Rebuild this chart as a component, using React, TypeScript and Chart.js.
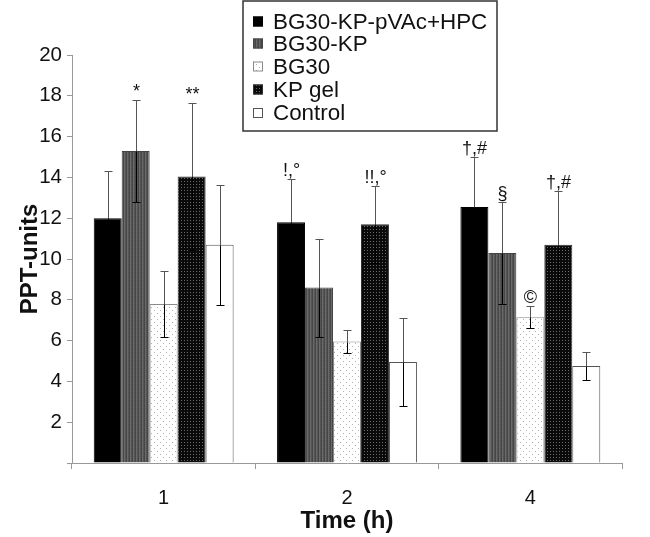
import React, { useEffect, useRef } from 'react';
import { Chart, registerables } from 'chart.js';
Chart.register(...registerables);

const categories = ['1', '2', '4'];
const seriesNames = ['BG30-KP-pVAc+HPC', 'BG30-KP', 'BG30', 'KP gel', 'Control'];
const pvacHpcValues = [12.0, 11.8, 12.55];
const pvacHpcErr = [2.3, 2.1, 2.45];
const bg30kpValues = [15.3, 8.6, 10.3];
const bg30kpErr = [2.5, 2.4, 2.5];
const bg30Values = [7.8, 5.95, 7.15];
const bg30Err = [1.6, 0.55, 0.55];
const kpGelValues = [14.05, 11.7, 10.7];
const kpGelErr = [3.6, 1.9, 2.65];
const controlValues = [10.7, 4.95, 4.75];
const controlErr = [2.95, 2.15, 0.7];
const pvacHpcMarks = ['', '!,°', '†,#'];
const bg30kpMarks = ['*', '', '§'];
const bg30Marks = ['', '', '©'];
const kpGelMarks = ['**', '!!,°', '†,#'];
const controlMarks = ['', '', ''];
const yTicks = [0, 2, 4, 6, 8, 10, 12, 14, 16, 18, 20];

const FONT = "'Liberation Sans', Arial, sans-serif";

function makePattern(kind: string): CanvasPattern | string {
  const c = document.createElement('canvas');
  const ctx = c.getContext('2d')!;
  if (kind === 'stripe') {
    c.width = 3; c.height = 2;
    const cols = ['#464646', '#6a6a6a', '#505050'];
    for (let x = 0; x < 3; x++) { ctx.fillStyle = cols[x]; ctx.fillRect(x, 0, 1, 2); }
    ctx.fillStyle = '#5a5a5a'; ctx.fillRect(2, 1, 1, 1);
  } else if (kind === 'darkdots') {
    c.width = 3; c.height = 3;
    ctx.fillStyle = '#0a0a0a'; ctx.fillRect(0, 0, 3, 3);
    ctx.fillStyle = '#6a6a6a'; ctx.fillRect(1, 1, 1, 1);
  } else if (kind === 'lightdots') {
    c.width = 6; c.height = 6;
    ctx.fillStyle = '#ffffff'; ctx.fillRect(0, 0, 6, 6);
    ctx.fillStyle = '#b0b0b0'; ctx.fillRect(1, 1, 1, 1); ctx.fillRect(4, 4, 1, 1);
  } else {
    return kind;
  }
  return ctx.createPattern(c, 'repeat')!;
}

export default function App() {
  const ref = useRef<HTMLCanvasElement>(null);
  useEffect(() => {
    const fills = [
      makePattern('#000000'),
      makePattern('stripe'),
      makePattern('lightdots'),
      makePattern('darkdots'),
      makePattern('#ffffff'),
    ];
    const borders = ['#000000', '#444444', '#8a8a8a', '#333333', '#555555'];
    const values = [pvacHpcValues, bg30kpValues, bg30Values, kpGelValues, controlValues];
    const errs = [pvacHpcErr, bg30kpErr, bg30Err, kpGelErr, controlErr];
    const marks = [pvacHpcMarks, bg30kpMarks, bg30Marks, kpGelMarks, controlMarks];

    const overlay = {
      id: 'overlay',
      afterDatasetsDraw(chart: any) {
        const ctx = chart.ctx as CanvasRenderingContext2D;
        const y = chart.scales.y;
        ctx.save();
        values.forEach((vals, di) => {
          const meta = chart.getDatasetMeta(di);
          meta.data.forEach((bar: any, i: number) => {
            const x = Math.round(bar.x) + 0.5;
            const top = Math.round(y.getPixelForValue(vals[i] + errs[di][i])) + 0.5;
            const mid = Math.round(y.getPixelForValue(vals[i])) + 0.5;
            const bot = Math.round(y.getPixelForValue(vals[i] - errs[di][i])) + 0.5;
            ctx.lineWidth = 1;
            ctx.strokeStyle = '#555';
            ctx.beginPath();
            ctx.moveTo(x, top);
            ctx.lineTo(x, mid);
            ctx.moveTo(x - 4, top);
            ctx.lineTo(x + 4, top);
            ctx.stroke();
            ctx.strokeStyle = '#000';
            ctx.beginPath();
            ctx.moveTo(x, mid);
            ctx.lineTo(x, bot);
            ctx.moveTo(x - 4, bot);
            ctx.lineTo(x + 4, bot);
            ctx.stroke();
            const m = marks[di][i];
            if (m) {
              ctx.fillStyle = '#111';
              ctx.font = `18px ${FONT}`;
              ctx.textAlign = 'center';
              ctx.textBaseline = 'alphabetic';
              ctx.fillText(m, x, top - 4);
            }
          });
        });
        ctx.restore();
      },
      afterDraw(chart: any) {
        const ctx = chart.ctx as CanvasRenderingContext2D;
        ctx.save();
        ctx.fillStyle = '#fff';
        ctx.fillRect(243, 1, 254, 130);
        ctx.strokeStyle = '#333';
        ctx.lineWidth = 1.5;
        ctx.strokeRect(243, 1, 254, 130);
        const rows = [21.5, 43.5, 66.5, 89.5, 113];
        seriesNames.forEach((name, i) => {
          const cy = rows[i];
          ctx.fillStyle = fills[i] as any;
          ctx.fillRect(253, cy - 5, 10, 10);
          ctx.strokeStyle = borders[i];
          ctx.lineWidth = 1;
          ctx.strokeRect(253.5, cy - 4.5, 9, 9);
          ctx.fillStyle = '#111';
          ctx.font = `22.4px ${FONT}`;
          ctx.textAlign = 'left';
          ctx.textBaseline = 'middle';
          ctx.fillText(name, 273, cy + 1);
        });
        ctx.restore();
      },
    };

    const chart = new Chart(ref.current!, {
      type: 'bar',
      data: {
        labels: categories,
        datasets: seriesNames.map((name, i) => ({
          label: name,
          data: values[i],
          backgroundColor: fills[i] as any,
          borderColor: borders[i],
          borderWidth: 1,
          categoryPercentage: 0.763,
          barPercentage: 1,
        })),
      },
      options: {
        animation: false,
        responsive: true,
        maintainAspectRatio: false,
        layout: { padding: { top: 55, right: 28, left: 0, bottom: 0 } },
        plugins: { legend: { display: false }, tooltip: { enabled: false } },
        scales: {
          x: {
            afterFit(scale: any) { scale.height = 74; },
            grid: { drawOnChartArea: false, drawTicks: true, tickLength: 6, color: '#999', offset: true },
            border: { color: '#999' },
            ticks: { color: '#111', font: { family: FONT, size: 20 }, padding: 17 },
            title: {
              display: true, text: 'Time (h)', color: '#111',
              font: { family: FONT, size: 24, weight: 'bold' }, padding: { top: 0, bottom: 1 },
            },
          },
          y: {
            min: 0, max: 20,
            afterFit(scale: any) { scale.width = 72; },
            afterBuildTicks(scale: any) { scale.ticks = yTicks.map((v) => ({ value: v })); },
            grid: { drawOnChartArea: false, drawTicks: true, tickLength: 5, color: '#999' },
            border: { color: '#999' },
            ticks: {
              color: '#111', font: { family: FONT, size: 20.5 }, padding: 5,
              callback: (v: any) => (v === 0 ? '' : String(v)),
            },
            title: {
              display: true, text: 'PPT-units', color: '#111',
              font: { family: FONT, size: 24, weight: 'bold' }, padding: { top: 16, bottom: 0 },
            },
          },
        },
      },
      plugins: [overlay],
    } as any);
    return () => chart.destroy();
  }, []);
  return (
    <div style={{ position: 'absolute', left: 0, top: 0, width: 650, height: 537, background: '#fff' }}>
      <canvas ref={ref} />
    </div>
  );
}
